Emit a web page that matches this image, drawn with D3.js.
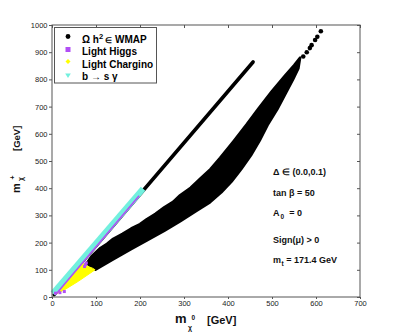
<!DOCTYPE html>
<html><head><meta charset="utf-8">
<script src="https://cdn.jsdelivr.net/npm/d3@7"></script>
<style>body{margin:0;background:#fff} text{font-family:Arial,"Liberation Sans",sans-serif}</style>
</head><body><svg id="c" width="398" height="333"></svg>
<script>
// ---- data ----
const xTicks=[0,100,200,300,400,500,600,700];
const yTicks=[0,100,200,300,400,500,600,700,800,900,1000];
const wmapLine=[[5,9],[457,864]];
const wmapBandUpper=[[79,124],[90,150],[110,180],[125,196],[139,214],[160,232],[180,252],[200,268],[215,286],[235,306],[255,330],[275,350],[291,374],[315,402],[336,434],[360,470],[382,512],[412,572],[442,634],[470,695],[499,755],[530,815],[550,852],[564,880]];
const wmapBandLower=[[98,100],[139,138],[180,176],[215,207],[255,243],[291,278],[330,318],[359,348],[385,385],[408,424],[430,470],[452,520],[472,575],[490,632],[512,690],[530,745],[548,800],[560,840]];
const wmapTip=[[571,884],[579,900],[586,915],[590,926],[598,945],[603,957],[611,977]];
const higgsLine=[[10,12],[198,372]];
const higgsPts=[[8,14],[18,16],[28,20],[74,112],[76,119],[78,125]];
const charginoPoly=[[10,12],[30,28],[60,58],[98,100],[92,106],[82,112],[72,122],[55,102],[40,75],[25,47],[10,20]];
const bsgLine=[[2,13],[207,398]];
const legendLabels=["WMAP","Light Higgs","Light Chargino","b → s γ"];
const notes=["Δ ∈ (0.0,0.1)","tan β = 50","A","Sign(μ) > 0","m"];

const colBlack="#000", colHiggs="#b14ef5", colChar="#ffff00", colBsg="#72f0de";

const svg=d3.select("#c");
const W=398,H=333, m={l:52,r:38,t:25,b:36};
const x=d3.scaleLinear().domain([0,700]).range([m.l,W-m.r]);
const y=d3.scaleLinear().domain([0,1000]).range([H-m.b,m.t]);
const line=d3.line().x(d=>x(d[0])).y(d=>y(d[1]));

const g=svg.append("g");
const band=wmapBandUpper.concat(wmapBandLower.slice().reverse());
g.append("path").attr("d",line(band)+"Z").attr("fill",colBlack).attr("stroke",colBlack).attr("stroke-width",2.5).attr("stroke-linejoin","round");
g.selectAll("circle.tip").data(wmapTip).join("circle").attr("cx",d=>x(d[0])).attr("cy",d=>y(d[1])).attr("r",2.3).attr("fill",colBlack);
g.append("path").attr("d",line(wmapLine)).attr("stroke",colBlack).attr("stroke-width",3.6).attr("stroke-linecap","round").attr("fill","none");
g.append("path").attr("d",line(charginoPoly)+"Z").attr("fill",colChar).attr("stroke",colChar).attr("stroke-width",1);
g.append("path").attr("d",line(bsgLine)).attr("stroke",colBsg).attr("stroke-width",6).attr("fill","none");
g.append("path").attr("d",line(higgsLine)).attr("stroke",colHiggs).attr("stroke-width",1.6).attr("fill","none");
g.selectAll("rect.h").data(higgsPts).join("rect").attr("x",d=>x(d[0])-1.5).attr("y",d=>y(d[1])-1.5).attr("width",3).attr("height",3).attr("fill",colHiggs);

// axes
function styleAxis(s){s.select(".domain").remove();s.selectAll("line").attr("stroke","#555");s.selectAll("text").attr("fill","#222").attr("font-family","Arial, Liberation Sans, sans-serif").attr("font-size",7.5);}
const fmt=d3.format("d");
svg.append("g").attr("transform",`translate(0,${y(0)})`).call(d3.axisBottom(x).tickValues(xTicks).tickFormat(fmt).tickSize(2).tickPadding(2)).call(styleAxis);
svg.append("g").attr("transform",`translate(${x(0)},0)`).call(d3.axisLeft(y).tickValues(yTicks).tickFormat(fmt).tickSize(3).tickPadding(1.5)).call(styleAxis);
svg.append("g").attr("transform",`translate(0,${y(1000)})`).call(d3.axisBottom(x).tickValues(xTicks).tickSize(3).tickFormat("")).call(styleAxis);
svg.append("g").attr("transform",`translate(${x(700)},0)`).call(d3.axisLeft(y).tickValues(yTicks).tickSize(3).tickFormat("")).call(styleAxis);
svg.append("rect").attr("x",x(0)).attr("y",y(1000)).attr("width",x(700)-x(0)).attr("height",y(0)-y(1000)).attr("fill","none").attr("stroke","#555").attr("stroke-width",1);

// legend
const lg=svg.append("g");
lg.append("rect").attr("x",54.5).attr("y",27.5).attr("width",102).attr("height",55.5).attr("fill","#fff").attr("stroke","#555").attr("stroke-width",1);
const base=[42.5,55,67.5,80];
const lx=68, tx=82;
lg.append("circle").attr("cx",lx).attr("cy",base[0]-6).attr("r",2.4).attr("fill",colBlack);
lg.append("rect").attr("x",lx-2.5).attr("y",base[1]-8).attr("width",5).attr("height",5).attr("fill",colHiggs);
lg.append("path").attr("d",`M${lx},${base[2]-8.5}L${lx+2.5},${base[2]-6}L${lx},${base[2]-3.5}L${lx-2.5},${base[2]-6}Z`).attr("fill",colChar);
lg.append("path").attr("d",`M${lx-2.8},${base[3]-6.5}L${lx+2.8},${base[3]-6.5}L${lx},${base[3]-2}Z`).attr("fill",colBsg);
const t0=lg.append("text").attr("x",tx).attr("y",base[0]).attr("font-size",10).attr("font-weight","bold");
t0.append("tspan").text("Ω h");
t0.append("tspan").attr("dy",-4).attr("font-size",7.5).text("2");
t0.append("tspan").attr("dy",4).attr("font-size",8).attr("dx",2).text("∈");
t0.append("tspan").attr("dx",3).text(legendLabels[0]);
for(let i=1;i<4;i++) lg.append("text").attr("x",tx).attr("y",base[i]).attr("font-size",10).attr("font-weight","bold").text(legendLabels[i]);

// annotations
const nt=svg.append("g").attr("font-size",9).attr("font-weight","bold").attr("fill","#111");
const nx=273;
nt.append("text").attr("x",nx).attr("y",175).text(notes[0]);
nt.append("text").attr("x",nx).attr("y",196).text(notes[1]);
const a0=nt.append("text").attr("x",nx).attr("y",216);
a0.append("tspan").text(notes[2]);
a0.append("tspan").attr("dy",2.5).attr("font-size",6.5).attr("dx",1).text("0");
a0.append("tspan").attr("dy",-2.5).attr("dx",5).text("= 0");
nt.append("text").attr("x",nx).attr("y",243).text(notes[3]);
const mt=nt.append("text").attr("x",nx).attr("y",263);
mt.append("tspan").text(notes[4]);
mt.append("tspan").attr("dy",2.5).attr("font-size",6.5).attr("dx",0.5).text("t");
mt.append("tspan").attr("dy",-2.5).attr("dx",2.5).text("= 171.4 GeV");

// axis titles
const xt=svg.append("g").attr("font-weight","bold").attr("fill","#111");
xt.append("text").attr("x",175).attr("y",323).attr("font-size",13).text("m");
xt.append("text").attr("x",188).attr("y",330).attr("font-size",7).text("χ");
xt.append("text").attr("x",191.5).attr("y",320).attr("font-size",6.5).text("0");
xt.append("text").attr("x",207).attr("y",324).attr("font-size",11).text("[GeV]");

const yt=svg.append("g").attr("font-weight","bold").attr("fill","#111").attr("transform","translate(19.5,193) rotate(-90)");
yt.append("text").attr("x",0).attr("y",0).attr("font-size",11).text("m");
yt.append("text").attr("x",12).attr("y",3.5).attr("font-size",7).text("χ");
yt.append("text").attr("x",13.5).attr("y",-5).attr("font-size",7).text("+");
yt.append("text").attr("x",42).attr("y",0).attr("font-size",9.5).text("[GeV]");
</script></body></html>
